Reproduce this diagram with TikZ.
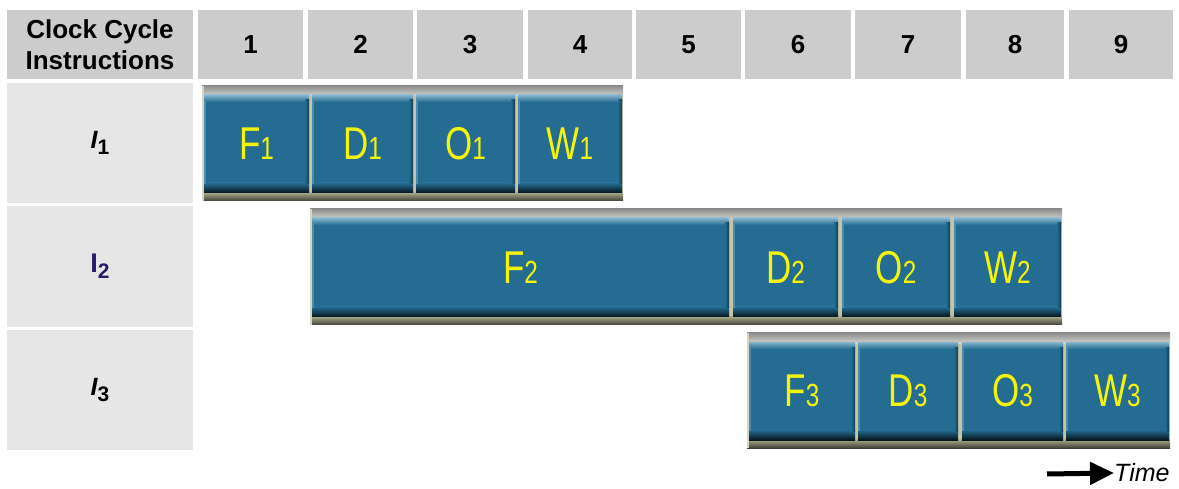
\documentclass[tikz,border=0pt]{standalone}
\usepackage{fontspec}
\setmainfont{Liberation Sans}
\newfontfamily\blkfont[FakeStretch=0.76]{Liberation Sans}
\usetikzlibrary{arrows.meta}
\definecolor{hdrgray}{HTML}{CCCCCC}
\definecolor{lblgray}{HTML}{E6E6E6}
\definecolor{stagebase}{HTML}{246C92}
\definecolor{stagehi}{HTML}{86B4CC}
\definecolor{stagelo}{HTML}{06141C}
\definecolor{stagedark}{HTML}{123A50}
\definecolor{stageleft}{HTML}{4D8CAD}
\definecolor{stagetxt}{HTML}{F4F40A}
\definecolor{framemid}{HTML}{C4C4A8}
\definecolor{frtopa}{HTML}{8E8E8E}
\definecolor{frtopb}{HTML}{D2D2CA}
\definecolor{frbota}{HTML}{B0B090}
\definecolor{frbotb}{HTML}{404036}
\definecolor{itwo}{HTML}{2A1A6A}
\newcommand{\stg}[2]{{\blkfont\fontsize{46}{46}\selectfont #1\fontsize{32}{32}\selectfont #2}}
\newcommand{\ilab}[3]{{\bfseries\fontsize{#3}{#3}\selectfont #1\raisebox{-6pt}{\upshape\fontsize{21}{21}\selectfont #2}}}
\tikzset{
  hcell/.style={fill=hdrgray, inner sep=0, outer sep=0, anchor=north west, align=center,
    font=\bfseries\fontsize{26}{31}\selectfont},
  lcell/.style={fill=lblgray, inner sep=0, outer sep=0, anchor=north west},
  rowframe/.style={anchor=north west, inner sep=0, outer sep=0,
    path picture={
      \fill[framemid] (path picture bounding box.south west) rectangle (path picture bounding box.north east);
      \shade[top color=frtopa, bottom color=frtopb] (path picture bounding box.north west) rectangle ([yshift=-10pt]path picture bounding box.north east);
      \shade[top color=frbota, bottom color=frbotb] ([yshift=9pt]path picture bounding box.south west) rectangle (path picture bounding box.south east);
      \fill[framemid!70!white] (path picture bounding box.north west) rectangle ([xshift=2pt]path picture bounding box.south west);
    }},
  stage/.style={anchor=north west, inner sep=0, outer sep=0, text=stagetxt,
    path picture={
      \fill[stagebase] (path picture bounding box.south west) rectangle (path picture bounding box.north east);
      \shade[top color=stagehi, bottom color=stagebase] (path picture bounding box.north west) rectangle ([yshift=-7pt]path picture bounding box.north east);
      \shade[top color=stagebase, bottom color=stagelo] ([yshift=10pt]path picture bounding box.south west) rectangle (path picture bounding box.south east);
      \shade[left color=stagebase, right color=stagedark] ([xshift=-4pt, yshift=-5pt]path picture bounding box.north east) rectangle ([yshift=9pt]path picture bounding box.south east);
      \fill[stageleft] ([yshift=-5pt]path picture bounding box.north west) rectangle ([xshift=2pt, yshift=9pt]path picture bounding box.south west);
    }}
}
\begin{document}
\begin{tikzpicture}[x=1pt, y=-1pt]
\useasboundingbox (0,0) rectangle (1179,489);
% header row
\node[hcell, minimum width=186, minimum height=69] (hlab) at (7,10) {Clock Cycle\\Instructions};
\node[hcell, minimum width=105, minimum height=69] (h1) at (198,10) {1};
\node[hcell, minimum width=105, minimum height=69] (h2) at (308,10) {2};
\node[hcell, minimum width=106, minimum height=69] (h3) at (417,10) {3};
\node[hcell, minimum width=104, minimum height=69] (h4) at (528,10) {4};
\node[hcell, minimum width=105, minimum height=69] (h5) at (636,10) {5};
\node[hcell, minimum width=106, minimum height=69] (h6) at (745,10) {6};
\node[hcell, minimum width=106, minimum height=69] (h7) at (855,10) {7};
\node[hcell, minimum width=98, minimum height=69] (h8) at (966,10) {8};
\node[hcell, minimum width=104, minimum height=69] (h9) at (1069,10) {9};
% row labels
\node[lcell, minimum width=186, minimum height=120] (l1) at (7,83) {\ilab{\itshape I}{1}{25}};
\node[lcell, minimum width=186, minimum height=121] (l2) at (7,206) {\ilab{\color{itwo}I}{2}{27}};
\node[lcell, minimum width=186, minimum height=120] (l3) at (7,330) {\ilab{\itshape I}{3}{25}};
% row 1
\node[rowframe, minimum width=421, minimum height=115] (r1) at (202,86) {};
\node[stage, minimum width=105, minimum height=98] (f1) at (204,95) {\stg{F}{1}};
\node[stage, minimum width=101, minimum height=98] (d1) at (312,95) {\stg{D}{1}};
\node[stage, minimum width=99, minimum height=98] (o1) at (416,95) {\stg{O}{1}};
\node[stage, minimum width=104, minimum height=98] (w1) at (518,95) {\stg{W}{1}};
% row 2
\node[rowframe, minimum width=752, minimum height=116] (r2) at (310,209) {};
\node[stage, minimum width=417, minimum height=99] (f2) at (312,218) {\stg{F}{2}};
\node[stage, minimum width=105, minimum height=99] (d2) at (733,218) {\stg{D}{2}};
\node[stage, minimum width=108, minimum height=99] (o2) at (842,218) {\stg{O}{2}};
\node[stage, minimum width=107, minimum height=99] (w2) at (954,218) {\stg{W}{2}};
% row 3
\node[rowframe, minimum width=423, minimum height=115] (r3) at (747,333) {};
\node[stage, minimum width=106, minimum height=98] (f3) at (749,342) {\stg{F}{3}};
\node[stage, minimum width=100, minimum height=98] (d3) at (858,342) {\stg{D}{3}};
\node[stage, minimum width=101, minimum height=98] (o3) at (962,342) {\stg{O}{3}};
\node[stage, minimum width=103, minimum height=98] (w3) at (1066,342) {\stg{W}{3}};
% time arrow
\node[anchor=west, inner sep=0, font=\itshape\fontsize{25}{25}\selectfont] (time) at (1114,473) {Time};
\coordinate (tstart) at (1047,474);
\draw[line width=5pt, -{Triangle[length=24pt, width=22pt]}] (tstart) -- (time.west);
\end{tikzpicture}
\end{document}
